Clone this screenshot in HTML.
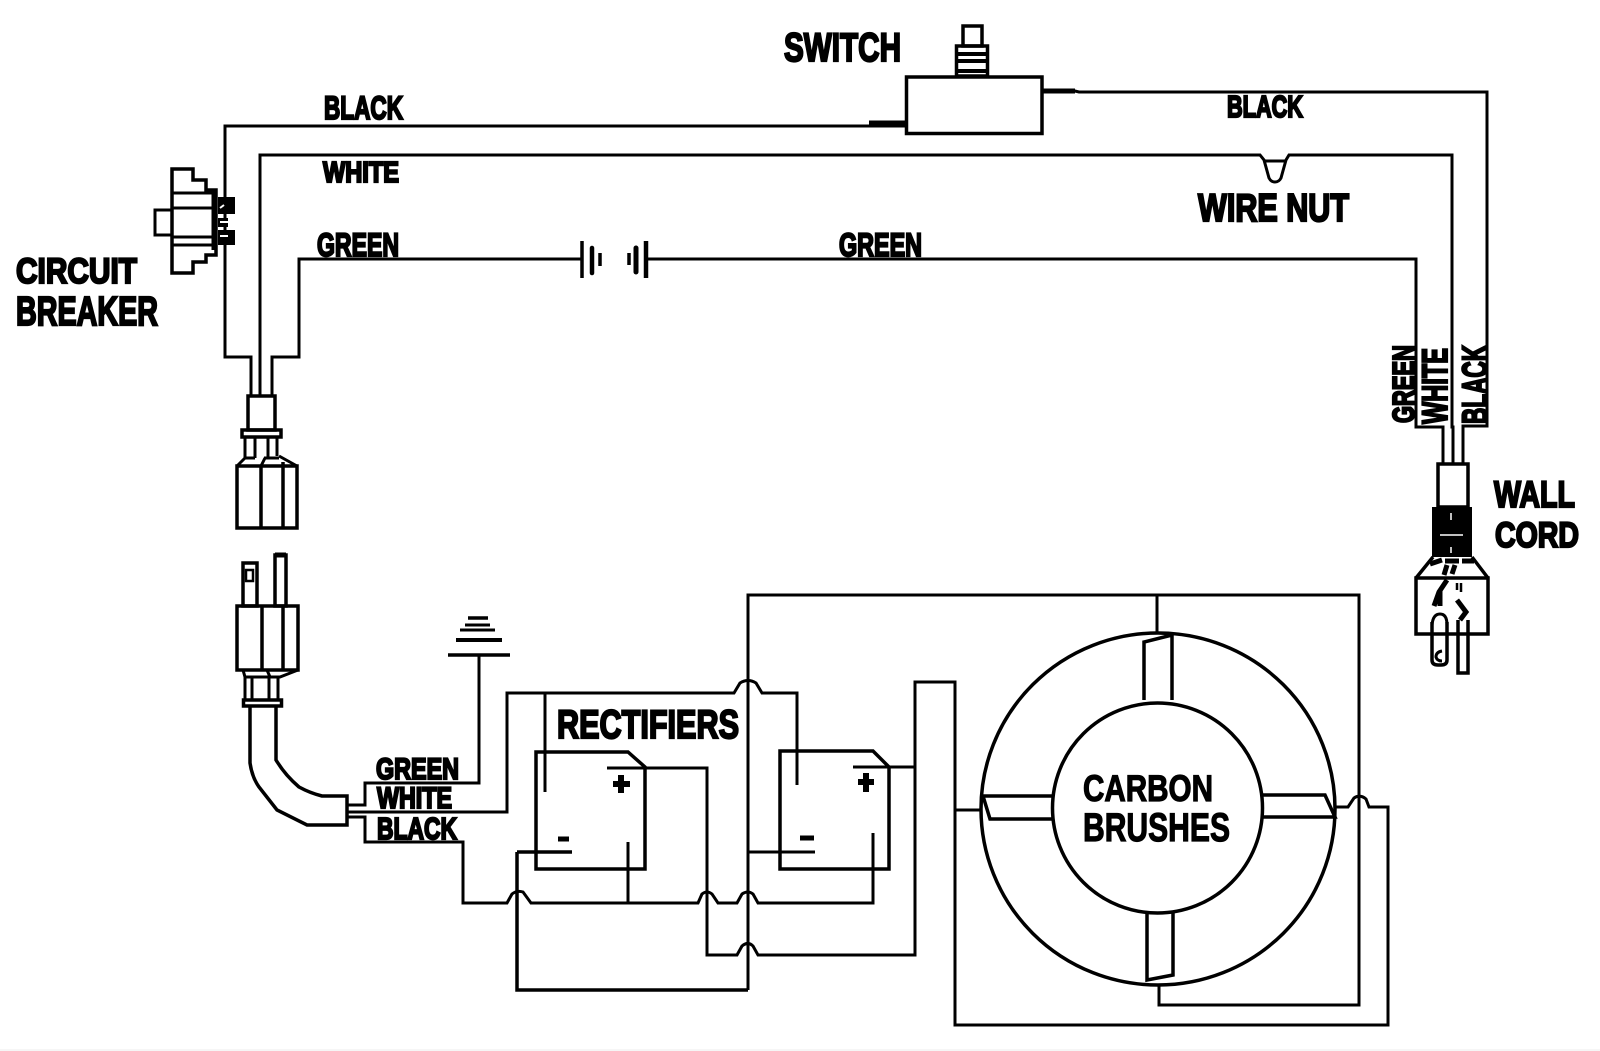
<!DOCTYPE html>
<html><head><meta charset="utf-8"><style>
html,body{margin:0;padding:0;background:#fff}
svg{display:block}
text{font-family:"Liberation Sans",sans-serif;font-weight:bold;fill:#000;stroke:#000;stroke-width:2.2px}
</style></head><body>
<svg width="1600" height="1051" viewBox="0 0 1600 1051" xmlns="http://www.w3.org/2000/svg">
<rect width="1600" height="1051" fill="#fff"/>
<line x1="0" y1="1050" x2="1600" y2="1050" stroke="#eee" stroke-width="1"/>
<g fill="none" stroke="#000" stroke-width="3" stroke-linejoin="miter">
<!-- top wires -->
<path d="M906 126 H225 V357 H251 V396"/>
<path d="M260 396 V155 H1260 L1264 160 L1269 178 Q1271 182 1275 182 Q1279 182 1281 178 L1286 160 L1289 155 H1452 V427 H1453 V464"/>
<path d="M1264 161 H1286"/>
<path d="M582 259 H299 V357 H272 V396"/>
<path d="M646 259 H1416 V427 H1443 V464"/>
<path d="M1042 91 H1075 L1079 92 H1487 V426 H1463 V464"/>
<path d="M869 124 H906" stroke-width="7"/>
<path d="M1042 91 H1075" stroke-width="5"/>
<!-- green symbol -->
<path d="M582 241 V278" stroke-width="3.5"/>
<path d="M592 248 V273" stroke-width="4.5" stroke-linecap="round"/>
<path d="M600 253 V266" stroke-width="3.5"/>
<path d="M629 253 V265" stroke-width="3.5"/>
<path d="M636 248 V272" stroke-width="5" stroke-linecap="round"/>
<path d="M646 241 V278" stroke-width="4.5"/>
<!-- switch -->
<rect x="906.500" y="77" width="135.500" height="56.500" stroke-width="3.5"/>
<rect x="963" y="26" width="19" height="20" stroke-width="3.5"/>
<rect x="956.500" y="46" width="31" height="30" stroke-width="3.500"/>
<path d="M956 54 H988 M956 61 H988 M956 71 H988" stroke-width="4"/>
<!-- circuit breaker -->
<path d="M172 169 H193 V180 H206 V190 H216 V255 H206 V262 H193 V273 H172 Z" stroke-width="3.500"/>
<path d="M172 210 H155 V235 H172"/>
<path d="M172 193 H216 M172 208 H213 M172 237 H213 M172 245 H216" />
<path d="M213 190 V250"/>
<rect x="218" y="197" width="17" height="17" fill="#000" stroke="none"/>
<rect x="218" y="230" width="17" height="15" fill="#000" stroke="none"/>
<rect x="218" y="218" width="10" height="9" fill="#000" stroke="none"/>
<path d="M220 208 L224 205" stroke="#fff" stroke-width="2"/>
<path d="M220 222 H228" stroke="#fff" stroke-width="2"/>
<path d="M220 236 H228" stroke="#fff" stroke-width="2"/>
<!-- upper connector -->
<rect x="248" y="396" width="27" height="34" stroke-width="3.500"/>
<rect x="242" y="430" width="39" height="7" stroke-width="3.500"/>
<path d="M245 437 V458 M255 437 V458 M268 437 V458 M277 437 V456 M245 458 L237 466 M245 458 H255 M264 458 H279 M279 456 L297 466 M261 466 L265 458"/>
<rect x="237" y="466" width="60" height="62" stroke-width="3.500"/>
<path d="M261 466 V528 M283 462 V528" stroke-width="3.500"/>
<!-- lower plug -->
<rect x="243" y="563" width="14" height="43" stroke-width="3.500"/>
<rect x="246" y="570" width="7" height="11" stroke-width="2.500"/>
<rect x="275" y="555" width="11" height="51" stroke-width="3.500"/>
<path d="M275 555 H286" stroke-width="5"/>
<rect x="237" y="606" width="61" height="64" stroke-width="3.500"/>
<path d="M262 606 V670 M283 606 V670" stroke-width="3.500"/>
<path d="M243 670 L245 677 H280 L298 670 M267 670 L270 677" stroke-width="3"/>
<path d="M245 677 V700 M252 677 V700 M269 677 V700 M278 677 V700"/>
<rect x="243.500" y="700" width="38" height="6" stroke-width="3.500"/>
<!-- cable -->
<path d="M250 706 V763 Q252 777 259 787 L277 810 L307 825 H347 V796 H322 Q310 793 299 787 Q285 775 276 760 V706" stroke-width="3.500"/>
<path d="M347 805 H365 V783 H479 V655"/>
<path d="M347 812 H507 V693 H734 L740 683 Q748 678 756 683 L762 693 H797 V785"/>
<path d="M347 817 H365 V842 H463 V903 H507 L512 894 Q517 890 523 892 L531 903 H698 L702 894 Q707 890 712 894 L718 903 H737 L742 894 Q748 890 753 894 L758 903 H873 V833"/>
<!-- ground -->
<path d="M448 655 H510" stroke-width="3.500"/>
<path d="M456 640 H502" stroke-width="4"/>
<path d="M460 630 H495" stroke-width="3"/>
<path d="M465 625 H490" stroke-width="3"/>
<path d="M468 618 H488" stroke-width="3.500"/>
<!-- rectifier 1 -->
<path d="M536 752 H628 L645 767 V869 H536 Z" stroke-width="3.500"/>
<path d="M545 693 V792"/>
<path d="M607 768 H707 V955 H737 L742 946 Q748 941 753 946 L758 955 H915 V682 H955 V1025 H1388 V807 H1369 L1366 799 Q1360 794 1354 798 L1348 807 H1335"/>
<path d="M517 852 H572" stroke-width="3.500"/>
<path d="M517 852 V990 H748" stroke-width="3.500"/>
<path d="M628 842 V903"/>
<path d="M558 839 H569" stroke-width="5"/>
<path d="M621 775 V793 M613 784 H630" stroke-width="6"/>
<!-- rectifier 2 -->
<path d="M780 751 H873 L889 767 V869 H780 Z" stroke-width="3.500"/>
<path d="M853 767 H915"/>
<path d="M748 852 H815" stroke-width="3"/>
<path d="M800 838 H814" stroke-width="5"/>
<path d="M866 773 V792 M858 782 H874" stroke-width="6"/>
<!-- main vertical / frame -->
<path d="M748 990 V595 H1359 V1005 H1159 V985"/>
<path d="M1157 595 V632"/>
<path d="M955 810 H982"/>
<!-- ring -->
<ellipse cx="1158" cy="809" rx="177" ry="176" stroke-width="3.500"/>
<ellipse cx="1157.500" cy="808" rx="105" ry="105" stroke-width="3.500"/>
<path d="M1144 700 V642 L1172 635 V700" stroke-width="3.500"/>
<path d="M1147 913 V980 L1173 975 V913" stroke-width="3.500"/>
<path d="M1052 796 H983 L990 819 H1052" stroke-width="3.500"/>
<path d="M1263 795 H1325 L1335 817 H1263" stroke-width="3.500"/>
<!-- wall cord -->
<rect x="1438" y="464" width="30" height="43" stroke-width="3.500"/>
<rect x="1432" y="507" width="40" height="50" fill="#000" stroke="none"/>
<path d="M1440 535 H1463 M1451 513 V520 M1451 547 V553" stroke="#fff" stroke-width="1.500"/>
<path d="M1433 557 L1416 578 M1472 557 L1488 578" stroke-width="3.500"/>
<rect x="1416" y="578" width="72" height="56" stroke-width="3.500"/>
<path d="M1430 564 L1442 560 M1445 561 H1459 M1462 561 H1474 M1447 565 L1444 575 M1455 565 L1452 574" stroke-width="5"/>
<path d="M1447 580 L1439 592 L1434 606" stroke-width="5"/>
<path d="M1440 590 V606" stroke-width="5"/>
<path d="M1457 583 V590 M1461 583 V592" stroke-width="2.500"/>
<path d="M1457 600 L1466 612 L1460 620" stroke-width="5"/>
<path d="M1432 622 V660 Q1432 665 1438 665 H1441 Q1447 665 1447 660 V622" stroke-width="3.500"/>
<path d="M1432 625 Q1433 614 1440 614 Q1447 614 1447 625" stroke-width="3"/>
<path d="M1442 651 Q1436 652 1436 657 Q1437 661 1442 661" stroke-width="3"/>
<path d="M1458 620 V673 H1468 V620" stroke-width="3.500"/>
</g>
<!-- labels -->
<text x="784" y="61" font-size="40" textLength="117" lengthAdjust="spacingAndGlyphs">SWITCH</text>
<text x="324" y="119" font-size="32.700" textLength="79" lengthAdjust="spacingAndGlyphs">BLACK</text>
<text x="323" y="182" font-size="28.300" textLength="76" lengthAdjust="spacingAndGlyphs">WHITE</text>
<text x="317" y="256" font-size="32.700" textLength="82" lengthAdjust="spacingAndGlyphs">GREEN</text>
<text x="839" y="256" font-size="32.700" textLength="83" lengthAdjust="spacingAndGlyphs">GREEN</text>
<text x="1227" y="117" font-size="31" textLength="76" lengthAdjust="spacingAndGlyphs">BLACK</text>
<text x="1198" y="221" font-size="38.500" textLength="151" lengthAdjust="spacingAndGlyphs">WIRE NUT</text>
<text x="16" y="283" font-size="35.600" textLength="121" lengthAdjust="spacingAndGlyphs">CIRCUIT</text>
<text x="16" y="325" font-size="41" textLength="142" lengthAdjust="spacingAndGlyphs">BREAKER</text>
<text x="1494" y="507" font-size="37" textLength="81" lengthAdjust="spacingAndGlyphs">WALL</text>
<text x="1495" y="547" font-size="35.600" textLength="84" lengthAdjust="spacingAndGlyphs">CORD</text>
<text x="376" y="779" font-size="30" textLength="83" lengthAdjust="spacingAndGlyphs">GREEN</text>
<text x="377" y="808" font-size="30" textLength="75" lengthAdjust="spacingAndGlyphs">WHITE</text>
<text x="377" y="839" font-size="31" textLength="80" lengthAdjust="spacingAndGlyphs">BLACK</text>
<text x="557" y="738" font-size="40" textLength="182" lengthAdjust="spacingAndGlyphs">RECTIFIERS</text>
<text x="1083" y="801" font-size="37" textLength="130" lengthAdjust="spacingAndGlyphs" style="stroke-width:1.2px">CARBON</text>
<text x="1083" y="841" font-size="40" textLength="147" lengthAdjust="spacingAndGlyphs" style="stroke-width:1.2px">BRUSHES</text>
<text transform="translate(1414,423) rotate(-90)" font-size="31" textLength="78" lengthAdjust="spacingAndGlyphs">GREEN</text>
<text transform="translate(1447,424) rotate(-90)" font-size="35.600" textLength="76" lengthAdjust="spacingAndGlyphs">WHITE</text>
<text transform="translate(1487,424) rotate(-90)" font-size="35.600" textLength="79" lengthAdjust="spacingAndGlyphs">BLACK</text>
</svg>
</body></html>
